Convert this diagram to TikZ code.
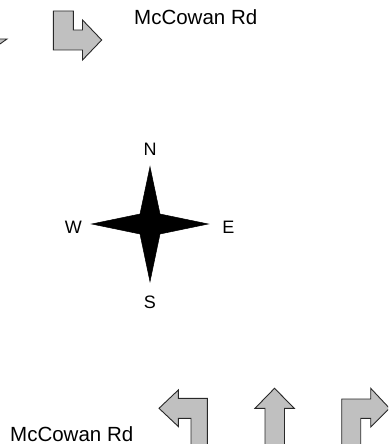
\documentclass[tikz,border=0pt]{standalone}
\usepackage{fontspec}
\setmainfont{Liberation Sans}
\definecolor{arrowgray}{RGB}{192,192,192}
\definecolor{edgegray}{RGB}{40,40,40}
\tikzset{
  turnarrow/.style={fill=arrowgray, draw=edgegray, line width=0.9pt, line join=miter},
  roadlabel/.style={inner sep=0pt, anchor=base west, font=\fontsize{20.5}{24}\selectfont},
  dirlabel/.style={inner sep=0pt, anchor=center, font=\fontsize{18}{21}\selectfont},
  star/.style={fill=black, draw=black, line width=0.5pt, line join=miter}
}
\begin{document}
\begin{tikzpicture}[x=1pt,y=-1pt]
\useasboundingbox (0,0) rectangle (388,444);
\begin{scope}
\clip (0,0) rectangle (388,444);
% partial shape at the top-left edge
\path[turnarrow] (-10,39) -- (7,39) -- (-10,51) -- cycle;
% top: turn down then right
\path[turnarrow] (53.3,11) -- (73.3,11) -- (73.3,30) -- (82.5,30) -- (82.5,20)
  -- (101.7,40) -- (82.5,60) -- (82.5,50) -- (53.3,50) -- cycle;
% bottom: left turn
\path[turnarrow] (159,408.3) -- (178.3,390) -- (178.3,398.3) -- (207.3,398.3)
  -- (207.3,446) -- (191,446) -- (191,418.3) -- (178.3,418.3) -- (178.3,426.5) -- cycle;
% bottom: straight ahead
\path[turnarrow] (274.5,388.3) -- (294.3,408.3) -- (284.5,408.3) -- (284.5,446)
  -- (265,446) -- (265,408.3) -- (255,408.3) -- cycle;
% bottom: right turn
\path[turnarrow] (341.7,399) -- (370.7,399) -- (370.7,388.3) -- (389.5,408.3)
  -- (370.7,427) -- (370.7,418.3) -- (360.7,418.3) -- (360.7,446) -- (341.7,446) -- cycle;
\end{scope}
% compass star
\path[star] (150,166.7) -- (160,214) -- (208.3,224) -- (160,234) -- (150,281.7)
  -- (140,234) -- (91.7,224) -- (140,214) -- cycle;
\node[dirlabel] (n) at (150,149.3) {N};
\node[dirlabel] (s) at (150,302.3) {S};
\node[dirlabel] (w) at (73.3,227.3) {W};
\node[dirlabel] (e) at (228.3,227.3) {E};
% road labels
\node[roadlabel] (roadtop) at (134,24.3) {McCowan Rd};
\node[roadlabel] (roadbottom) at (10,441) {McCowan Rd};
\end{tikzpicture}
\end{document}
